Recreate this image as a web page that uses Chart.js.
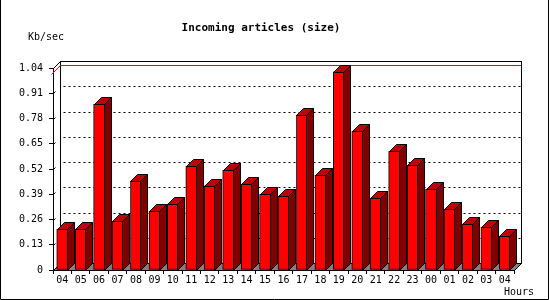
<!DOCTYPE html>
<html>
<head>
<meta charset="utf-8">
<title>Incoming articles (size)</title>
<script src="https://cdn.jsdelivr.net/npm/chart.js@4/dist/chart.umd.min.js"></script>
<style>
    body { margin: 0; background: #fff; }
    canvas { display: block; }
</style>
</head>
<body>
<canvas id="sizeChart" width="550" height="300"></canvas>
<script>
const hours = ['04', '05', '06', '07', '08', '09', '10', '11', '12', '13', '14', '15', '16',
    '17', '18', '19', '20', '21', '22', '23', '00', '01', '02', '03', '04'];
const kbPerSec = [0.21, 0.21, 0.853, 0.251, 0.457, 0.302, 0.338, 0.534, 0.433, 0.513, 0.441, 0.39, 0.38,
    0.797, 0.488, 1.02, 0.714, 0.369, 0.611, 0.539, 0.416, 0.313, 0.237, 0.22, 0.174];
const yTicks = [0, 0.13, 0.26, 0.39, 0.52, 0.65, 0.78, 0.91, 1.04];
const yTickLabels = ['0', '0.13', '0.26', '0.39', '0.52', '0.65', '0.78', '0.91', '1.04'];
const peakValue = 1.02;

const depth = 7; // 3d offset in px
const mono = 'DejaVu Sans Mono';

const threeD = {
    id: 'threeD',
    beforeDraw(chart) {
        const ctx = chart.ctx;
        ctx.save();
        ctx.fillStyle = '#fff';
        ctx.fillRect(0, 0, chart.width, chart.height);
        ctx.strokeStyle = '#000';
        ctx.lineWidth = 1;
        ctx.beginPath();
        ctx.moveTo(0.5, 0);
        ctx.lineTo(0.5, 299.5);
        ctx.lineTo(548.5, 299.5);
        ctx.lineTo(548.5, 0);
        ctx.stroke();
        ctx.restore();
    },
    beforeDatasetsDraw(chart) {
        const ctx = chart.ctx;
        const ca = chart.chartArea;
        const ys = chart.scales.y;
        const l = Math.round(ca.left) + 0.5, r = Math.round(ca.right) + 0.5;
        const t = Math.round(ca.top) + 0.5, b = Math.round(ca.bottom) + 0.5;
        ctx.save();
        ctx.lineWidth = 1;
        ctx.strokeStyle = '#000';

        // back wall
        ctx.fillStyle = '#fff';
        ctx.fillRect(l + depth, t - depth, r - l, b - t);
        ctx.strokeRect(l + depth, t - depth, r - l, b - t);

        // floor
        ctx.fillStyle = '#808080';
        ctx.beginPath();
        ctx.moveTo(l, b);
        ctx.lineTo(l + depth, b - depth);
        ctx.lineTo(r + depth, b - depth);
        ctx.lineTo(r, b);
        ctx.closePath();
        ctx.fill();
        ctx.stroke();

        // left wall top edge
        ctx.beginPath();
        ctx.moveTo(l, t);
        ctx.lineTo(l + depth, t - depth);
        ctx.stroke();

        // dotted grid on back wall + short marks on the side wall
        ctx.setLineDash([2, 3]);
        yTicks.forEach(v => {
            if (v === 0 || v === yTicks[yTicks.length - 1]) return;
            const y = Math.round(ys.getPixelForValue(v)) + 0.5;
            ctx.beginPath();
            ctx.moveTo(l + depth + 3, y - depth);
            ctx.lineTo(r + depth, y - depth);
            ctx.stroke();
        });
        ctx.setLineDash([]);
        yTicks.forEach(v => {
            if (v === 0 || v === yTicks[yTicks.length - 1]) return;
            const y = Math.round(ys.getPixelForValue(v)) + 0.5;
            ctx.beginPath();
            ctx.moveTo(l, y);
            ctx.lineTo(l + 2, y - 2);
            ctx.stroke();
        });

        // peak line
        const py = Math.round(ys.getPixelForValue(peakValue)) + 0.5;
        ctx.strokeStyle = '#ff0000';
        ctx.beginPath();
        ctx.moveTo(l - 2, py + 2);
        ctx.lineTo(l + depth, py - depth);
        ctx.lineTo(r + depth - 0.5, py - depth);
        ctx.stroke();
        ctx.restore();
    },
    afterDatasetsDraw(chart) {
        const ctx = chart.ctx;
        const meta = chart.getDatasetMeta(0);
        ctx.save();
        ctx.lineWidth = 1;
        ctx.strokeStyle = '#000';
        meta.data.forEach(bar => {
            const p = bar.getProps(['x', 'y', 'base', 'width'], true);
            const left = Math.round(p.x - p.width / 2) + 0.5;
            const right = left + p.width - 1;
            const top = Math.round(p.y) + 0.5;
            const base = Math.round(p.base) + 0.5;
            // top face
            ctx.fillStyle = '#c00000';
            ctx.beginPath();
            ctx.moveTo(left, top);
            ctx.lineTo(left + depth, top - depth);
            ctx.lineTo(right + depth, top - depth);
            ctx.lineTo(right, top);
            ctx.closePath();
            ctx.fill();
            ctx.stroke();
            // side face
            ctx.fillStyle = '#800000';
            ctx.beginPath();
            ctx.moveTo(right, top);
            ctx.lineTo(right + depth, top - depth);
            ctx.lineTo(right + depth, base - depth);
            ctx.lineTo(right, base);
            ctx.closePath();
            ctx.fill();
            ctx.stroke();
        });
        ctx.restore();
    },
    afterDraw(chart) {
        const ctx = chart.ctx;
        ctx.save();
        ctx.fillStyle = '#000';
        ctx.font = '10px "' + mono + '"';
        ctx.textBaseline = 'middle';
        ctx.textAlign = 'left';
        ctx.fillText('Kb/sec', 28, 37);
        ctx.fillText('Hours', 504, 292);
        ctx.restore();
    }
};

function createSizeChart() {
    const ctx = document.getElementById('sizeChart').getContext('2d');
    new Chart(ctx, {
        type: 'bar',
        data: {
            labels: hours,
            datasets: [{
                label: 'Incoming articles (size)',
                data: kbPerSec,
                backgroundColor: '#ff0000',
                borderColor: '#000',
                borderWidth: 1,
                borderSkipped: false,
                barThickness: 11
            }]
        },
        options: {
            responsive: false,
            animation: false,
            layout: { padding: { left: 8, right: 36, top: 0, bottom: 0 } },
            plugins: {
                legend: { display: false },
                tooltip: { enabled: false },
                title: {
                    display: true,
                    text: 'Incoming articles (size)',
                    color: '#000',
                    font: { family: mono, size: 11, weight: 'bold' },
                    padding: { top: 22, bottom: 32.8 }
                }
            },
            scales: {
                x: {
                    offset: true,
                    border: { display: true, color: '#000' },
                    grid: { offset: true, drawOnChartArea: false, drawTicks: true, tickLength: 4, color: '#000' },
                    ticks: { color: '#000', padding: 0, maxRotation: 0, autoSkip: false, font: { family: mono, size: 10 } },
                    afterFit: scale => { scale.height = 30; }
                },
                y: {
                    min: 0,
                    max: 1.04,
                    border: { display: true, color: '#000' },
                    grid: { drawOnChartArea: false, drawTicks: true, tickLength: 4, color: '#000' },
                    ticks: {
                        color: '#000',
                        padding: 6,
                        font: { family: mono, size: 10 },
                        callback: (value, index) => yTickLabels[index]
                    },
                    afterBuildTicks: scale => { scale.ticks = yTicks.map(v => ({ value: v })); },
                    afterFit: scale => { scale.width = 45; }
                }
            }
        },
        plugins: [threeD]
    });
}

document.addEventListener('DOMContentLoaded', function() {
    createSizeChart();
});
</script>
</body>
</html>
